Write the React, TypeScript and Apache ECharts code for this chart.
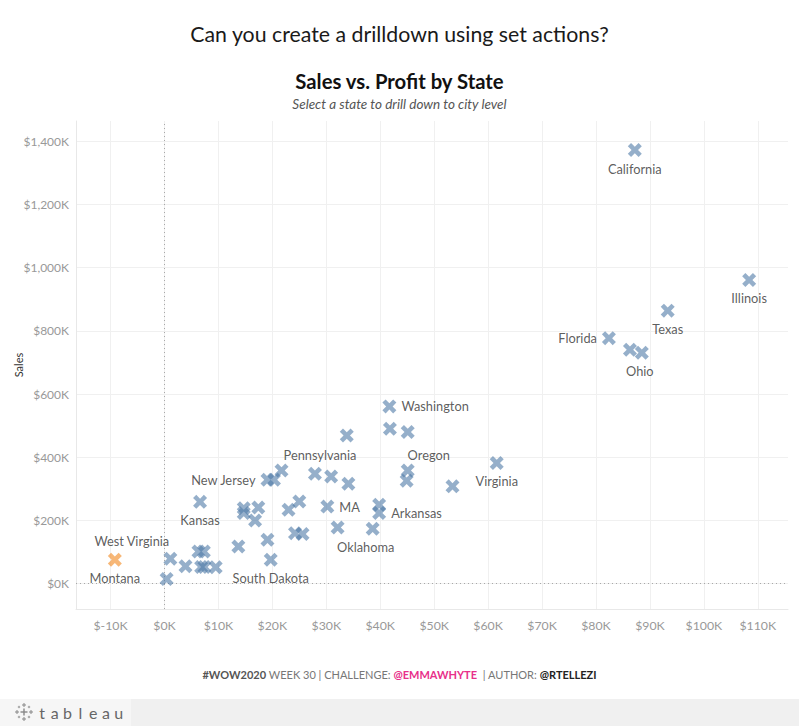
import React, { useEffect, useRef } from "react";
import * as echarts from "echarts";

// ---- Data (profit and sales in $K) ----
const states = [
  "California", "Illinois", "Texas", "Florida", "", "Ohio",
  "Washington", "", "", "", "Oregon", "", "Virginia", "",
  "", "New Jersey", "", "Pennsylvania", "", "", "", "", "MA", "",
  "Arkansas", "", "Oklahoma", "", "", "", "South Dakota",
  "Kansas", "", "", "", "", "", "", "", "", "", "", "", "", "",
];
const profitK = [
  87.2, 108.4, 93.3, 82.4, 86.3, 88.5,
  41.7, 41.8, 45.1, 33.8, 45.1, 44.9, 61.6, 53.4,
  21.7, 19.1, 20.3, 27.9, 30.9, 34.1, 25.0, 23.0, 30.2, 39.8,
  39.8, 32.1, 38.6, 24.2, 25.6, 19.1, 19.7,
  6.6, 14.7, 14.7, 17.4, 16.8, 13.7, 0.4, 1.1, 3.9, 6.3, 7.3, 6.8, 7.4, 9.5,
];
const salesK = [
  1372, 961, 864, 777, 740, 731,
  561, 490, 480, 469, 358, 326, 382, 308,
  358, 329, 329, 348, 339, 316, 260, 234, 244, 250,
  224, 178, 174, 160, 157, 139, 76,
  259, 239, 224, 241, 200, 118, 15, 79, 55, 102, 102, 53, 53, 52,
];
// highlighted (orange) states, sharing one mark position
const highlightStates = ["West Virginia", "Montana"];
const highlightProfitK = [-9.2, -9.2];
const highlightSalesK = [76, 76];

const xTicks = [-10, 0, 10, 20, 30, 40, 50, 60, 70, 80, 90, 100, 110];
const yTicks = [0, 200, 400, 600, 800, 1000, 1200, 1400];

// ---- Styles ----
const FONT = "Lato, 'Open Sans', sans-serif";
const labelPlacement: Record<string, { position: string; offset?: number[] }> = {
  California: { position: "bottom" },
  Illinois: { position: "bottom" },
  Texas: { position: "bottom" },
  Florida: { position: "left" },
  Ohio: { position: "bottom", offset: [-2, 0] },
  Washington: { position: "right" },
  Oregon: { position: "top", offset: [21, 3] },
  Virginia: { position: "bottom" },
  Pennsylvania: { position: "top", offset: [5, 0] },
  "New Jersey": { position: "left" },
  Kansas: { position: "bottom" },
  MA: { position: "right" },
  Arkansas: { position: "right" },
  Oklahoma: { position: "bottom", offset: [-7, 0] },
  "South Dakota": { position: "bottom" },
  "West Virginia": { position: "top", offset: [17, 0] },
  Montana: { position: "bottom" },
};

const XMARK =
  "path://M0,2.3L2.3,0L5,2.7L7.7,0L10,2.3L7.3,5L10,7.7L7.7,10L5,7.3L2.3,10L0,7.7L2.7,5Z";

const labelStyle = (name: string) => {
  const p = labelPlacement[name];
  if (!name || !p) return { show: false };
  return {
    show: true,
    formatter: name,
    position: p.position,
    offset: p.offset || [0, 0],
    distance: 5,
    color: "#333",
    fontSize: 12.8,
    fontFamily: FONT,
  };
};

function logoCrosses() {
  const cx = 24, cy = 712;
  const items: any[] = [];
  const add = (x: number, y: number, a: number, w: number) => {
    items.push({ type: "line", shape: { x1: x - a, y1: y, x2: x + a, y2: y }, style: { stroke: "#888", lineWidth: w } });
    items.push({ type: "line", shape: { x1: x, y1: y - a, x2: x, y2: y + a }, style: { stroke: "#888", lineWidth: w } });
  };
  add(cx, cy, 3.5, 1.4);
  add(cx, cy - 7, 2, 1);
  add(cx, cy + 7, 2, 1);
  add(cx - 7, cy, 2, 1);
  add(cx + 7, cy, 2, 1);
  add(cx - 5, cy - 5, 1.2, 0.8);
  add(cx + 5, cy - 5, 1.2, 0.8);
  add(cx - 5, cy + 5, 1.2, 0.8);
  add(cx + 5, cy + 5, 1.2, 0.8);
  return items;
}

function logoLetters() {
  return "tableau".split("").map((ch, i) => ({
    type: "text",
    style: {
      x: 42 + i * 12.8, y: 712, text: ch,
      textAlign: "center", textVerticalAlign: "middle",
      fill: "#666", fontSize: 16, fontFamily: FONT,
    },
  }));
}

export default function App() {
  const ref = useRef<HTMLDivElement>(null);
  useEffect(() => {
    if (!ref.current) return;
    const chart = echarts.init(ref.current, undefined, { renderer: "svg" });
    const mainData = states.map((name, i) => ({
      name,
      value: [profitK[i], salesK[i]],
      label: labelStyle(name),
    }));
    const hlData = highlightStates.map((name, i) => ({
      name,
      value: [highlightProfitK[i], highlightSalesK[i]],
      label: labelStyle(name),
      itemStyle: i === 0 ? undefined : { color: "rgba(0,0,0,0)" },
    }));
    chart.setOption({
      animation: false,
      backgroundColor: "#fff",
      grid: {
        left: 76, right: 11, top: 121, bottom: 117,
        containLabel: false, outerBoundsMode: "none",
      },
      xAxis: {
        type: "value",
        min: -16.4,
        max: 115.6,
        axisLine: { show: true, onZero: false, lineStyle: { color: "#e8e8e8" } },
        axisTick: { show: false, customValues: xTicks },
        axisLabel: {
          customValues: xTicks,
          formatter: (v: number) => `$${v}K`,
          color: "#999",
          fontSize: 12.3,
          fontFamily: FONT,
          margin: 10,
        },
        splitLine: { show: true, lineStyle: { color: "#f0f0f0", width: 1 } },
      },
      yAxis: {
        type: "value",
        min: -80,
        max: 1464,
        name: "Sales",
        nameLocation: "middle",
        nameGap: 52,
        nameMoveOverlap: false,
        nameTextStyle: { color: "#333", fontSize: 11, fontFamily: FONT },
        axisLine: { show: true, onZero: false, lineStyle: { color: "#e8e8e8" } },
        axisTick: { show: false, customValues: yTicks },
        axisLabel: {
          customValues: yTicks,
          formatter: (v: number) => `$${v.toLocaleString("en-US")}K`,
          color: "#999",
          fontSize: 12,
          fontFamily: FONT,
          margin: 7,
        },
        splitLine: { show: true, lineStyle: { color: "#f0f0f0", width: 1 } },
      },
      series: [
        {
          type: "scatter",
          name: "States",
          symbol: XMARK,
          symbolSize: 14,
          symbolKeepAspect: true,
          silent: true,
          itemStyle: { color: "rgba(78,121,167,0.75)" },
          data: mainData,
          markLine: {
            silent: true,
            symbol: "none",
            label: { show: false },
            lineStyle: { type: [1, 3], color: "#a8a8a8", width: 1 },
            data: [{ xAxis: 0 }, { yAxis: 0 }],
            z: 1,
          },
          z: 3,
        },
        {
          type: "scatter",
          name: "Highlighted",
          symbol: XMARK,
          symbolSize: 14,
          symbolKeepAspect: true,
          silent: true,
          itemStyle: { color: "rgba(242,142,43,0.8)" },
          data: hlData,
          z: 3,
        },
      ],
      graphic: [
        {
          type: "text",
          style: {
            x: 399.5, y: 34, text: "Can you create a drilldown using set actions?",
            textAlign: "center", textVerticalAlign: "middle",
            fill: "#1a1a1a", fontSize: 21.3, fontFamily: FONT,
          },
        },
        {
          type: "text",
          style: {
            x: 399.5, y: 81, text: "Sales vs. Profit by State",
            textAlign: "center", textVerticalAlign: "middle",
            fill: "#111", fontSize: 20.3, fontWeight: "bold", fontFamily: FONT,
          },
        },
        {
          type: "text",
          style: {
            x: 399.5, y: 104, text: "Select a state to drill down to city level",
            textAlign: "center", textVerticalAlign: "middle",
            fill: "#555", fontSize: 13.5, fontStyle: "italic", fontFamily: FONT,
          },
        },
        {
          type: "text",
          style: {
            x: 399.5, y: 674,
            text: "{b|#WOW2020}{n| WEEK 30 | CHALLENGE: }{p|@EMMAWHYTE}{n|  | AUTHOR: }{k|@RTELLEZI}",
            textAlign: "center", textVerticalAlign: "middle",
            fontSize: 11, fontFamily: FONT,
            rich: {
              b: { fill: "#555", fontWeight: "bold", fontSize: 11, fontFamily: FONT },
              n: { fill: "#777", fontSize: 11, fontFamily: FONT },
              p: { fill: "#e8308a", fontWeight: "bold", fontSize: 11, fontFamily: FONT },
              k: { fill: "#222", fontWeight: "bold", fontSize: 11, fontFamily: FONT },
            },
          },
        },
        {
          type: "rect",
          shape: { x: 0, y: 699, width: 799, height: 27 },
          style: { fill: "#f0f0f0" },
          z: 0,
        },
        {
          type: "rect",
          shape: { x: 0, y: 699, width: 131, height: 27 },
          style: { fill: "#f6f6f6" },
          z: 0,
        },
        ...logoCrosses(),
        ...logoLetters(),
      ],
    });
    return () => chart.dispose();
  }, []);
  return (
    <div
      ref={ref}
      style={{ position: "absolute", left: 0, top: 0, width: 799, height: 726 }}
    />
  );
}
